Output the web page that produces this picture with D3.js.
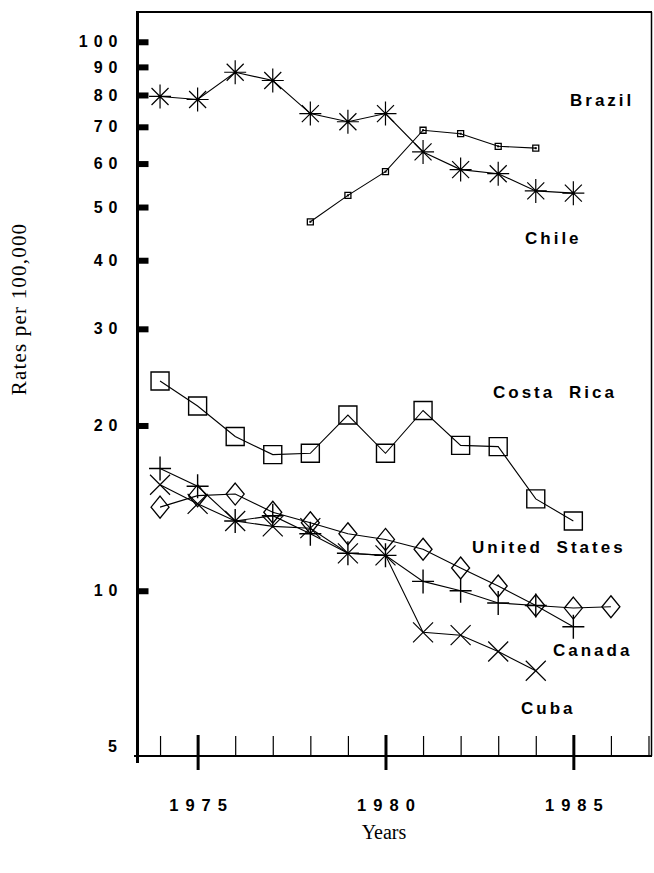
<!DOCTYPE html>
<html><head><meta charset="utf-8">
<script src="https://cdn.jsdelivr.net/npm/d3@7"></script>
<style>body{margin:0;background:#fff}svg{display:block}</style>
</head><body>
<svg id="chart" width="654" height="873"></svg>
<script>
// ---- data (rates per 100,000) ----
const brazilYears = [1974,1975,1976,1977,1978,1979,1980,1981,1982,1983,1984,1985];
const brazil      = [79.5,78.5,88,85,74,71.5,74,63,58.5,57.5,53.5,53];
const chileYears  = [1978,1979,1980,1981,1982,1983,1984];
const chile       = [47,52.5,58,69,68,64.5,64];
const costaYears  = [1974,1975,1976,1977,1978,1979,1980,1981,1982,1983,1984,1985];
const costaRica   = [24.1,21.7,19.1,17.7,17.8,20.9,17.8,21.3,18.4,18.3,14.7,13.4];
const usYears     = [1974,1975,1976,1977,1978,1979,1980,1981,1982,1983,1984,1985,1986];
const unitedStates= [14.2,14.9,15.0,13.9,13.3,12.7,12.4,11.9,11.0,10.2,9.4,9.3,9.35];
const canadaYears = [1974,1975,1976,1977,1978,1979,1980,1981,1982,1983,1984,1985];
const canada      = [16.7,15.5,13.4,13.7,12.7,11.7,11.6,10.4,10.0,9.5,9.4,8.6];
const cubaYears   = [1974,1975,1976,1977,1978,1979,1980,1981,1982,1983,1984];
const cuba        = [15.6,14.4,13.4,13.1,13.0,11.7,11.6,8.4,8.3,7.75,7.15];

const yTickValues = [10,20,30,40,50,60,70,80,90,100];
const yTickLabels = ["10","20","30","40","50","60","70","80","90","100"];
const majorYears  = [1975,1980,1985];
const minorYears  = [1974,1976,1977,1978,1979,1981,1982,1983,1984,1986,1987];

// ---- scales ----
const svg = d3.select("#chart");
const x = d3.scaleLinear().domain([1973.4, 1987.08]).range([137.5, 651.5]);
const y = d3.scaleLog().domain([5, 113.3]).range([756, 12]);
const yBottom = 756;

// ---- frame ----
svg.append("line").attr("x1",136).attr("x2",652).attr("y1",12).attr("y2",12)
  .attr("stroke","#000").attr("stroke-width",2);
svg.append("line").attr("x1",651.5).attr("x2",651.5).attr("y1",12).attr("y2",yBottom)
  .attr("stroke","#000").attr("stroke-width",1.5);

// ---- bottom axis ----
const gx = svg.append("g").attr("transform",`translate(0,${yBottom})`);
const minorAxis = d3.axisBottom(x).tickValues(minorYears).tickSizeInner(-20).tickSizeOuter(0).tickFormat("");
gx.append("g").call(minorAxis).call(g=>g.select(".domain").remove())
  .selectAll("line").attr("stroke","#000").attr("stroke-width",1.2);
const majorAxis = d3.axisBottom(x).tickValues(majorYears).tickSize(14).tickFormat(d3.format("d"));
const gMaj = gx.append("g").call(majorAxis);
gMaj.select(".domain").remove();
gMaj.selectAll("line").attr("y1",-21).attr("y2",14).attr("stroke","#000").attr("stroke-width",3);
gMaj.selectAll("text").attr("y",49).attr("dy","0.35em").attr("dx",3.5)
  .attr("font-family","'Liberation Sans',Arial,sans-serif").attr("font-weight","bold")
  .attr("font-size",16.5).attr("letter-spacing",7).attr("fill","#000");
svg.append("line").attr("x1",134).attr("x2",652).attr("y1",yBottom).attr("y2",yBottom)
  .attr("stroke","#000").attr("stroke-width",2);

// ---- left axis ----
svg.append("line").attr("x1",137.5).attr("x2",137.5).attr("y1",11).attr("y2",763)
  .attr("stroke","#000").attr("stroke-width",3);
const gy = svg.append("g").attr("transform","translate(137.5,0)");
const yAxis = d3.axisLeft(y).tickValues(yTickValues).tickSize(0).tickPadding(20)
  .tickFormat((d,i)=>yTickLabels[i]);
gy.call(yAxis);
gy.select(".domain").remove();
gy.selectAll("text").attr("font-family","'Liberation Sans',Arial,sans-serif")
  .attr("font-weight","bold").attr("font-size",16).attr("letter-spacing",6).attr("fill","#000")
  .attr("dx",6);
gy.selectAll(".tick").append("rect").attr("x",0).attr("y",-3).attr("width",11).attr("height",6).attr("fill","#000");
svg.append("text").attr("x",117).attr("y",746).attr("dy","0.35em").attr("text-anchor","end")
  .attr("font-family","'Liberation Sans',Arial,sans-serif").attr("font-weight","bold")
  .attr("font-size",16).text("5");

// ---- axis titles ----
svg.append("text").attr("transform","translate(26,309) rotate(-90)").attr("text-anchor","middle")
  .attr("font-family","'Liberation Serif','Times New Roman',serif").attr("font-size",21)
  .attr("letter-spacing",1.2).text("Rates per 100,000");
svg.append("text").attr("x",384).attr("y",839).attr("text-anchor","middle")
  .attr("font-family","'Liberation Serif','Times New Roman',serif").attr("font-size",20)
  .text("Years");

// ---- markers ----
const markers = {
  asterisk: "M0,-12V12M-11,0H11M-8.5,-8.5L8.5,8.5M-8.5,8.5L8.5,-8.5",
  smallSquare: "M-3,-3H3V3H-3Z",
  square: "M-9,-9H9V9H-9Z",
  diamond: "M0,-11L9,0L0,11L-9,0Z",
  plus: "M0,-12V12M-11,0H11",
  cross: "M-10,-10L10,10M-10,10L10,-10"
};

const series = [
  {name:"Brazil", years:brazilYears, values:brazil, marker:"asterisk", sw:1.2},
  {name:"Chile", years:chileYears, values:chile, marker:"smallSquare", sw:1.3},
  {name:"Costa Rica", years:costaYears, values:costaRica, marker:"square", sw:1.4},
  {name:"United States", years:usYears, values:unitedStates, marker:"diamond", sw:1.3},
  {name:"Canada", years:canadaYears, values:canada, marker:"plus", sw:1.4},
  {name:"Cuba", years:cubaYears, values:cuba, marker:"cross", sw:1.2}
];

const line = d3.line().x(d=>x(d[0])).y(d=>y(d[1]));
series.forEach(s=>{
  const pts = s.years.map((yr,i)=>[yr, s.values[i]]);
  svg.append("path").attr("d",line(pts)).attr("fill","none").attr("stroke","#000").attr("stroke-width",1.1);
  const g = svg.append("g");
  g.selectAll("path").data(pts).join("path")
    .attr("transform",d=>`translate(${x(d[0])},${y(d[1])})`)
    .attr("d",markers[s.marker]).attr("fill","none").attr("stroke","#000").attr("stroke-width",s.sw);
  if (s.marker==="smallSquare") {
    g.selectAll("rect").data(pts).join("rect")
      .attr("x",d=>x(d[0])-1).attr("y",d=>y(d[1])-1).attr("width",2).attr("height",2).attr("fill","#000");
  }
});

// ---- series labels ----
const labelData = [
  {text:"Brazil", x:570, y:100},
  {text:"Chile", x:525, y:238},
  {text:"Costa Rica", x:493, y:392},
  {text:"United States", x:472, y:547},
  {text:"Canada", x:553, y:650},
  {text:"Cuba", x:521, y:708}
];
svg.append("g").selectAll("text").data(labelData).join("text")
  .attr("x",d=>d.x).attr("y",d=>d.y).attr("dy","0.36em")
  .attr("font-family","'Liberation Sans',Arial,sans-serif").attr("font-weight","bold")
  .attr("font-size",17).attr("letter-spacing",3).attr("word-spacing",6).attr("fill","#000")
  .text(d=>d.text);
</script>
</body></html>
